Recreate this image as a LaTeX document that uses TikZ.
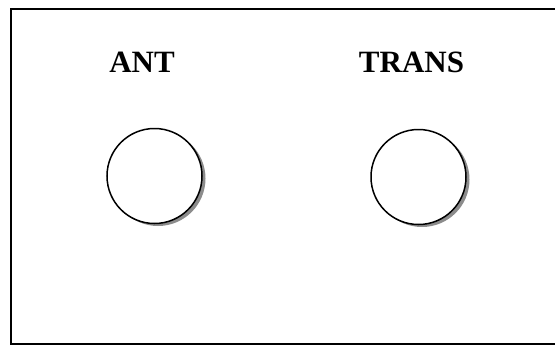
\documentclass[tikz,border=0pt]{standalone}
\usepackage{fontspec}
\setmainfont{Liberation Serif}
\usetikzlibrary{shadows}
\begin{document}
\begin{tikzpicture}[x=1pt,y=-1pt,
  lbl/.style={font=\fontsize{31}{32}\selectfont\bfseries, anchor=base, inner sep=0},
  knob/.style={circle, draw=black, line width=1.5pt, fill=white, minimum size=95pt, inner sep=0,
    drop shadow={shadow xshift=3.5pt, shadow yshift=-2.5pt, fill=black!45, opacity=1}}]
\useasboundingbox (0,0) rectangle (555,346);
\draw[line width=1.8pt] (555,9) -- (11,9) -- (11,344) -- (555,344);
\node[lbl] (antl) at (142,72) {ANT};
\node[lbl] (transl) at (411.5,72) {TRANS};
\node[knob] (ant) at (154.5,176) {};
\node[knob] (trans) at (418.5,177) {};
\end{tikzpicture}
\end{document}
